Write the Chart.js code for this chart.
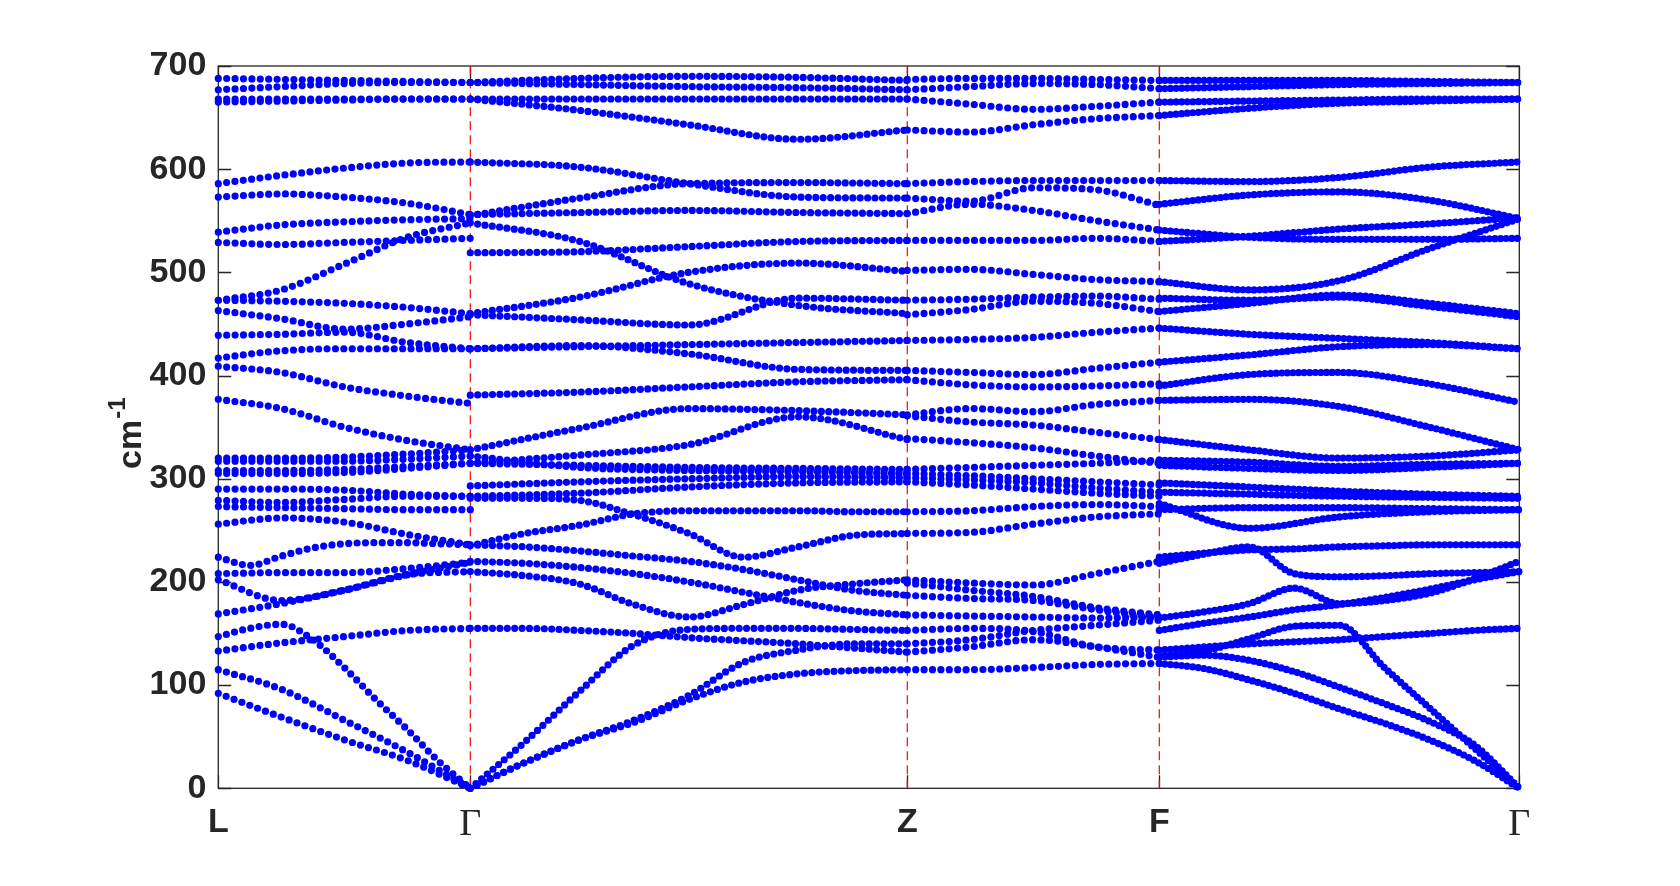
<!DOCTYPE html>
<html>
<head>
<meta charset="utf-8">
<script src="https://cdn.jsdelivr.net/npm/chart.js@4"></script>
<style>
  html, body { margin: 0; padding: 0; background: #fff; }
  #wrap { width: 1680px; height: 886px; }
</style>
</head>
<body>
<div id="wrap"><canvas id="bands"></canvas></div>
<script>
// high-symmetry points along the path (cumulative k distance) and their labels
const kPoints = [0, 252, 689, 941, 1301];
const kLabels = ['L', 'Γ', 'Z', 'F', 'Γ'];
const yTicks = [0, 100, 200, 300, 400, 500, 600, 700];

// phonon frequencies in cm-1: one row per band, values evenly spaced along the segment
const bandsLG = [
  [688, 687, 686, 685, 684],
  [677, 680, 683, 684, 684],
  [668, 668, 668, 668, 668],
  [665, 666, 667, 668, 668],
  [586, 594, 601, 606, 607],
  [573, 576, 573, 567, 556],
  [539, 546, 549, 551, 552],
  [529, 527, 529, 531, 533],
  [473, 483, 508, 534, 548],
  [473, 472, 470, 466, 460],
  [463, 455, 445, 450, 457],
  [439, 440, 442, 432, 426],
  [417, 424, 426, 426, 426],
  [409, 403, 389, 380, 373],
  [377, 368, 350, 337, 328],
  [320, 320, 321, 324, 328],
  [317, 317, 317, 319, 322],
  [308, 308, 309, 312, 315],
  [305, 305, 306, 310, 315],
  [290, 290, 289, 285, 283],
  [279, 277, 280, 283, 283],
  [273, 272, 271, 270, 270],
  [256, 262, 258, 246, 236],
  [224, 216, 225, 233, 237, 238, 238, 237, 236],
  [208, 209, 209, 213, 219],
  [202, 182, 192, 207, 210],
  [169, 179, 192, 207, 219],
  [147, 155, 159, 144, 117, 86, 57, 26, 0],
  [133, 141, 147, 153, 155],
  [115, 96, 66, 35, 0],
  [92, 69, 47, 27, 0]
];

const bandsGZ = [
  [684, 688, 690, 689, 686],
  [684, 682, 680, 679, 677],
  [668, 668, 668, 668, 668],
  [668, 657, 643, 629, 638],
  [607, 602, 586, 573, 572],
  [555, 572, 586, 587, 586],
  [556, 558, 560, 558, 557],
  [548, 530, 489, 468, 460],
  [519, 520, 525, 530, 531],
  [460, 476, 500, 509, 501],
  [459, 454, 449, 475, 473],
  [426, 428, 430, 432, 434],
  [426, 429, 421, 406, 405],
  [381, 384, 389, 394, 396],
  [328, 349, 368, 366, 362],
  [315, 323, 333, 360, 338],
  [315, 313, 311, 310, 309],
  [322, 311, 308, 307, 305],
  [293, 297, 300, 302, 301],
  [283, 286, 292, 296, 297],
  [281, 281, 279, 265, 247, 224, 234, 245, 247],
  [235, 247, 255, 266, 269, 269, 269, 268, 268],
  [236, 234, 230, 225, 220, 212, 202, 192, 187],
  [220, 218, 214, 208, 200, 190, 180, 172, 168],
  [210, 206, 198, 178, 166, 178, 192, 198, 202],
  [155, 155, 153, 150, 146, 143, 140, 136, 132],
  [0, 45, 94, 139, 154, 155, 155, 154, 153],
  [0, 25, 47, 66, 90, 122, 134, 140, 140],
  [0, 25, 47, 64, 86, 103, 111, 114, 115]
];

const bandsZF = [
  [687, 688, 688, 687, 686],
  [677, 680, 683, 682, 678],
  [668, 663, 658, 661, 665],
  [638, 636, 643, 649, 652],
  [586, 588, 589, 589, 589],
  [572, 569, 582, 580, 565],
  [557, 566, 560, 550, 541],
  [531, 531, 531, 533, 530],
  [502, 503, 498, 493, 491],
  [473, 474, 476, 477, 474],
  [459, 464, 472, 470, 462],
  [434, 435, 437, 442, 446],
  [405, 403, 401, 407, 413],
  [396, 391, 389, 390, 392],
  [362, 368, 365, 372, 376],
  [361, 355, 352, 345, 338],
  [339, 335, 330, 322, 315],
  [309, 311, 313, 315, 318],
  [305, 303, 300, 297, 294],
  [301, 299, 296, 291, 287],
  [297, 294, 290, 286, 283],
  [268, 269, 273, 275, 273],
  [247, 248, 256, 263, 266],
  [202, 199, 197, 208, 220],
  [199, 192, 186, 175, 168],
  [187, 184, 182, 173, 165],
  [168, 167, 166, 165, 166],
  [153, 155, 152, 137, 134],
  [140, 144, 153, 158, 163],
  [132, 137, 144, 137, 127],
  [115, 115, 117, 120, 121]
];

const bandsFG = [
  [686, 686, 686, 685, 684],
  [678, 680, 682, 683, 684],
  [665, 666, 667, 668, 668],
  [652, 659, 664, 666, 668],
  [589, 588, 592, 602, 607],
  [566, 575, 578, 570, 552],
  [541, 534, 532, 532, 533],
  [530, 535, 542, 547, 553],
  [491, 483, 492, 523, 552],
  [475, 473, 476, 467, 457],
  [462, 470, 478, 470, 460],
  [446, 440, 436, 432, 426],
  [413, 420, 428, 430, 426],
  [390, 401, 403, 392, 374],
  [376, 377, 370, 350, 328],
  [338, 328, 320, 322, 328],
  [318, 316, 312, 314, 315],
  [313, 310, 308, 311, 315],
  [296, 292, 288, 285, 283],
  [287, 285, 283, 282, 281],
  [276, 252, 263, 268, 270],
  [270, 272, 272, 271, 270],
  [218, 227, 234, 208, 205, 206, 208, 209, 210],
  [224, 228, 231, 232, 234, 235, 236, 236, 236],
  [165, 171, 179, 194, 179, 182, 189, 203, 220],
  [153, 160, 166, 173, 178, 185, 193, 202, 210],
  [134, 137, 140, 142, 144, 147, 150, 153, 155],
  [128, 133, 145, 157, 158, 117, 78, 39, 0],
  [127, 129, 124, 113, 98, 82, 65, 42, 0],
  [121, 116, 105, 92, 77, 63, 47, 27, 0]
];

const segments = [bandsLG, bandsGZ, bandsZF, bandsFG];
const dotGap = [8.4, 7.4, 8.4, 5.6];   // k-point spacing looks different per segment

const datasets = [];
segments.forEach((seg, s) => {
  const k0 = kPoints[s], k1 = kPoints[s + 1];
  seg.forEach(band => {
    const n = band.length - 1;
    datasets.push({
      data: band.map((v, i) => ({ x: k0 + (k1 - k0) * i / n, y: v })),
      borderColor: '#0000ff',
      borderWidth: 7.2,
      borderDash: [0, dotGap[s]],
      borderCapStyle: 'round',
      cubicInterpolationMode: 'monotone',
      pointRadius: 0,
      fill: false,
      clip: 6,
      order: 1
    });
  });
});

// red dashed separators at the inner high-symmetry points
kPoints.slice(1, 4).forEach(k => {
  datasets.push({
    data: [{ x: k, y: 0 }, { x: k, y: 700 }],
    borderColor: '#ff0000',
    borderWidth: 1.2,
    borderDash: [9, 5],
    pointRadius: 0,
    tension: 0,
    order: 2
  });
});

const AXIS = '#262626';
const SANS = '"Liberation Sans", Arial, sans-serif';

// box, inward ticks and the y title (with superscript)
const frame = {
  id: 'frame',
  beforeDatasetsDraw(chart) {
    const { ctx, chartArea: a, scales: { x, y } } = chart;
    ctx.save();
    ctx.strokeStyle = AXIS;
    ctx.lineWidth = 1.3;
    ctx.strokeRect(a.left, a.top, a.right - a.left, a.bottom - a.top);
    ctx.beginPath();
    yTicks.forEach(v => {
      const py = Math.round(y.getPixelForValue(v)) + 0.5;
      ctx.moveTo(a.left, py); ctx.lineTo(a.left + 13, py);
      ctx.moveTo(a.right, py); ctx.lineTo(a.right - 13, py);
    });
    kPoints.forEach(k => {
      const px = Math.round(x.getPixelForValue(k)) + 0.5;
      ctx.moveTo(px, a.bottom); ctx.lineTo(px, a.bottom - 13);
      ctx.moveTo(px, a.top); ctx.lineTo(px, a.top + 13);
    });
    ctx.stroke();
    ctx.restore();
  },
  afterDraw(chart) {
    const { ctx } = chart;
    ctx.save();
    ctx.fillStyle = AXIS;
    ctx.translate(141, 469);
    ctx.rotate(-Math.PI / 2);
    ctx.textAlign = 'left';
    ctx.textBaseline = 'alphabetic';
    ctx.font = 'bold 34px ' + SANS;
    ctx.fillText('cm', 0, 0);
    const w = ctx.measureText('cm').width;
    ctx.font = 'bold 24px ' + SANS;
    ctx.fillText('-1', w + 1, -16);
    ctx.restore();
  }
};

new Chart(document.getElementById('bands'), {
  type: 'line',
  data: { datasets },
  options: {
    responsive: true,
    maintainAspectRatio: false,
    animation: false,
    events: [],
    layout: { padding: { top: 66, right: 160.7, left: 0, bottom: 0 } },
    plugins: { legend: { display: false }, tooltip: { enabled: false } },
    scales: {
      x: {
        type: 'linear',
        min: kPoints[0],
        max: kPoints[kPoints.length - 1],
        grid: { display: false },
        border: { display: false },
        afterBuildTicks: s => { s.ticks = kPoints.map(v => ({ value: v })); },
        afterFit: s => { s.height = 97.7; },
        ticks: {
          autoSkip: false,
          maxRotation: 0,
          padding: 6,
          color: AXIS,
          callback: v => kLabels[kPoints.indexOf(v)],
          font: c => (c.tick && kLabels[kPoints.indexOf(c.tick.value)] === 'Γ')
            ? { family: '"Liberation Serif", "Times New Roman", serif', size: 38, weight: 'normal' }
            : { family: SANS, size: 34, weight: 'bold' }
        }
      },
      y: {
        min: 0,
        max: 700,
        grid: { display: false },
        border: { display: false },
        afterFit: s => { s.width = 218.3; },
        ticks: {
          stepSize: 100,
          padding: 4,
          color: AXIS,
          font: { family: SANS, size: 34, weight: 'bold' }
        }
      }
    }
  },
  plugins: [frame]
});
</script>
</body>
</html>
